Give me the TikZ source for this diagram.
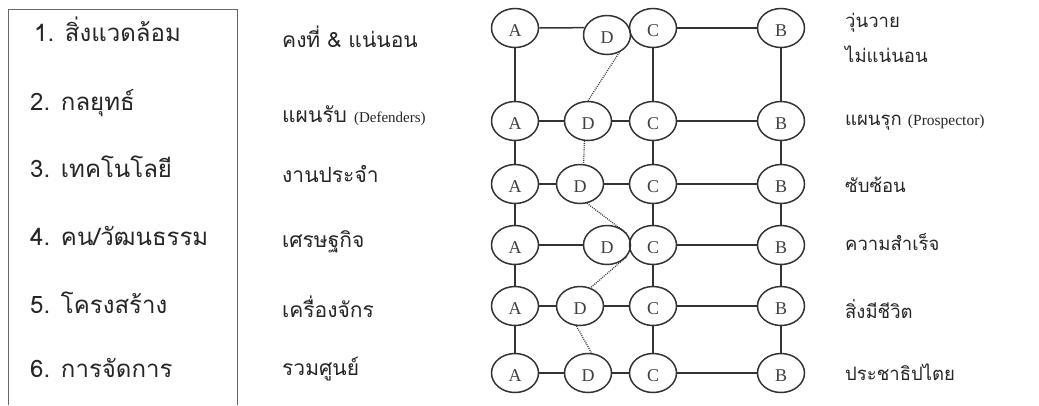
\documentclass[tikz,border=0pt]{standalone}
\usepackage{fontspec}
\newfontfamily\thai[Script=Thai]{Loma}
\newfontfamily\tnr{Liberation Serif}
\usetikzlibrary{shapes.geometric}
\begin{document}
\begin{tikzpicture}[x=1pt,y=-1pt,
  ent/.style={ellipse,draw=black!80,line width=1.5pt,minimum width=47pt,minimum height=39pt,
    inner sep=0pt,text height=17pt,text depth=0pt,
    font=\tnr\fontsize{18}{18}\selectfont,text=black!75},
  link/.style={draw=black!80,line width=1.5pt},
  trail/.style={draw=black!80,line width=1.3pt,dash pattern=on 0.9pt off 1.2pt},
  head/.style={anchor=base west,inner sep=0pt,font=\thai\fontsize{24}{24}\selectfont,text=black!85},
  low/.style={anchor=base west,inner sep=0pt,font=\thai\fontsize{21}{21}\selectfont,text=black!85},
  high/.style={anchor=base west,inner sep=0pt,font=\thai\fontsize{18.5}{18.5}\selectfont,text=black!85}]
\useasboundingbox (0,0) rectangle (1039,405);
\fill[white] (0,0) rectangle (1039,405);

% frame round the list of factors
\draw[black!60,line width=0.8pt] (8,405) -- (8,9) -- (237,9) -- (237,405);

% factors
\node[head] (f1) at (34,41)  {1. สิ่งแวดล้อม};
\node[head] (f2) at (30,110) {2. กลยุทธ์};
\node[head] (f3) at (30,177) {3. เทคโนโลยี};
\node[head] (f4) at (30,245) {4. คน/วัฒนธรรม};
\node[head] (f5) at (30,313) {5. โครงสร้าง};
\node[head] (f6) at (30,377) {6. การจัดการ};

% one end of each scale
\node[low] (l1) at (282,47)  {คงที่ \& แน่นอน};
\node[low] (l2) at (282,122) {แผนรับ {\tnr\fontsize{15}{15}\selectfont (Defenders)}};
\node[low] (l3) at (282,182) {งานประจำ};
\node[low] (l4) at (282,247) {เศรษฐกิจ};
\node[low] (l5) at (282,317) {เครื่องจักร};
\node[low] (l6) at (282,375) {รวมศูนย์};

% other end of each scale
\node[high] (h1a) at (845,27)  {วุ่นวาย};
\node[high] (h1b) at (845,62)  {ไม่แน่นอน};
\node[high] (h2) at (845,125) {แผนรุก {\tnr\fontsize{15.5}{15.5}\selectfont (Prospector)}};
\node[high] (h3) at (845,192) {ซับซ้อน};
\node[high] (h4) at (845,250) {ความสำเร็จ};
\node[high] (h5) at (845,318) {สิ่งมีชีวิต};
\node[high] (h6) at (845,380) {ประชาธิปไตย};

% grid of positions A, D, C, B for each factor
\foreach \r/\y/\dx/\dy in {1/28/607/35, 2/121/588/121, 3/184/580/184,
                            4/245/607/245, 5/306/580/306, 6/373/588/373} {
  \node[ent] (A\r) at (515,\y) {A};
  \node[ent] (D\r) at (\dx,\dy) {D};
  \node[ent] (C\r) at (653,\y) {C};
  \node[ent] (B\r) at (781,\y) {B};
}

% links inside each row
\draw[link] (A1.east) -- (D1.162);
\foreach \r in {2,...,6} {
  \draw[link] (A\r) -- (D\r);
}
\foreach \r in {1,...,6} {
  \draw[link] (D\r) -- (C\r);
  \draw[link] (C\r) -- (B\r);
}

% columns
\foreach \a/\b in {1/2,2/3,3/4,4/5,5/6} {
  \draw[link] (A\a) -- (A\b);
  \draw[link] (C\a) -- (C\b);
  \draw[link] (B\a) -- (B\b);
}

% path of D from row to row
\draw[trail] (D1.-55) -- (D2.north);
\draw[trail] (D2.-100) -- (D3.80);
\draw[trail] (D3.-70) -- (D4.30);
\draw[trail] (D4.-30) -- (D5.60);
\draw[trail] (D5.-100) -- (D6.80);
\end{tikzpicture}
\end{document}
